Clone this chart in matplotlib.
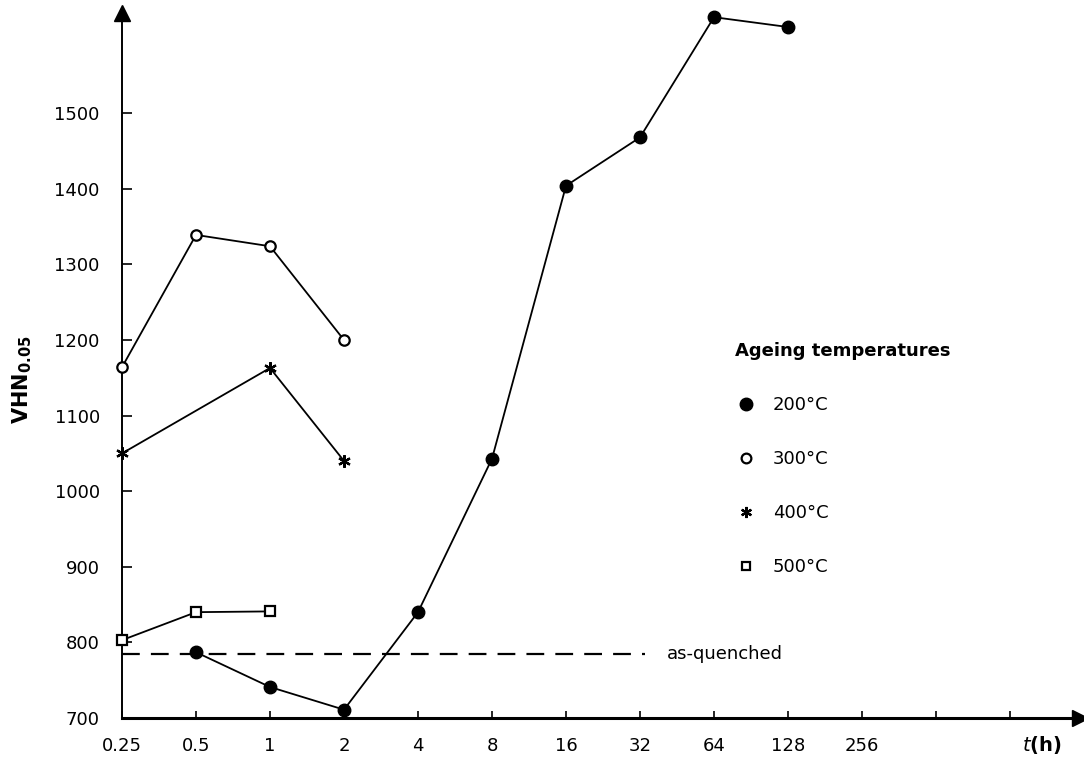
import matplotlib.pyplot as plt
from matplotlib.lines import Line2D

# ageing time (h) and hardness VHN0.05 for each ageing temperature
t_200 = [0.5, 1, 2, 4, 8, 16, 32, 64, 128]
vhn_200 = [787, 741, 711, 840, 1043, 1404, 1468, 1627, 1614]

t_300 = [0.25, 0.5, 1, 2]
vhn_300 = [1164, 1339, 1324, 1200]

t_400 = [0.25, 1, 2]
vhn_400 = [1050, 1163, 1040]

t_500 = [0.25, 0.5, 1]
vhn_500 = [803, 840, 841]

as_quenched = 785
as_quenched_span = [0.25, 33.5]

x_ticks = [0.25, 0.5, 1, 2, 4, 8, 16, 32, 64, 128, 256, 512, 1024]
x_tick_labels = ['0.25', '0.5', '1', '2', '4', '8', '16', '32', '64', '128', '256', '', '']
y_ticks = [700, 800, 900, 1000, 1100, 1200, 1300, 1400, 1500]

plt.rcParams['font.family'] = ['DejaVu Sans']

fig = plt.figure(figsize=(10.84, 7.62), dpi=100)
W, H = 1084, 762
ax = fig.add_axes([122 / W, 1 - 718 / H, (1080 - 122) / W, (718 - 13) / H])

ax.set_xscale('log', base=2)
ax.set_xlim(0.25, 0.25 * 2 ** ((1080 - 122) / 74.0))
ax.set_ylim(700, 700 + (718 - 13) / 0.756)

# series
ax.plot(t_200, vhn_200, color='black', lw=1.3, marker='o', markersize=9,
        markerfacecolor='black', zorder=3, clip_on=False)
ax.plot(t_300, vhn_300, color='black', lw=1.3, marker='o', markersize=7.5,
        markerfacecolor='white', markeredgewidth=1.6, zorder=3, clip_on=False)
ax.plot(t_400, vhn_400, color='black', lw=1.3, marker=(6, 2, 0), markersize=9,
        markeredgewidth=1.6, zorder=3, clip_on=False)
ax.plot(t_500, vhn_500, color='black', lw=1.3, marker='s', markersize=6.5,
        markerfacecolor='white', markeredgewidth=1.6, zorder=3, clip_on=False)

# as-quenched reference
ax.plot(as_quenched_span, [as_quenched, as_quenched], color='black', lw=1.6,
        dashes=(8, 5))
ax.text(41.2, as_quenched, 'as-quenched', fontsize=13, va='center', ha='left')

# axes styling: only left and bottom with arrows
ax.spines['top'].set_visible(False)
ax.spines['right'].set_visible(False)
ax.spines['bottom'].set_linewidth(2.2)
ax.spines['left'].set_linewidth(1.4)
ax.plot(1, 0, marker='>', color='black', markersize=11, transform=ax.transAxes, clip_on=False)
ax.plot(0, 1, marker='^', color='black', markersize=11, transform=ax.transAxes, clip_on=False)

ax.set_xticks(x_ticks)
ax.set_xticklabels(x_tick_labels)
ax.xaxis.set_minor_locator(plt.NullLocator())
ax.set_yticks(y_ticks)
ax.tick_params(axis='both', direction='in', labelsize=13, width=1.2)
ax.tick_params(axis='x', length=5, pad=14)
ax.tick_params(axis='y', length=7, pad=16)

ax.set_ylabel(r'$\mathbf{VHN}_{\mathbf{0.05}}$', fontsize=15)
ax.yaxis.set_label_coords(-0.092, 0.48)
fig.text(1042 / W, 1 - 745 / H, r'$\mathit{t}$(h)', fontsize=14, fontweight='bold',
         ha='center', va='center')

# legend
handles = [
    Line2D([], [], ls='none', marker='o', color='black', markersize=9),
    Line2D([], [], ls='none', marker='o', color='black', markerfacecolor='white',
           markersize=7, markeredgewidth=1.6),
    Line2D([], [], ls='none', marker=(6, 2, 0), color='black', markersize=8,
           markeredgewidth=1.6),
    Line2D([], [], ls='none', marker='s', color='black', markerfacecolor='white',
           markersize=6, markeredgewidth=1.6),
]
labels = ['200°C', '300°C', '400°C', '500°C']
leg = ax.legend(handles, labels, title='Ageing temperatures', loc='upper left',
                bbox_to_anchor=(735 / W, 1 - 342 / H), bbox_transform=fig.transFigure,
                frameon=False, fontsize=13, title_fontsize=13, labelspacing=2.0,
                handlelength=1.2, handletextpad=0.9, borderpad=0, borderaxespad=0,
                alignment='left')
leg.get_title().set_fontweight('bold')

fig.savefig('out.png', dpi=100)
